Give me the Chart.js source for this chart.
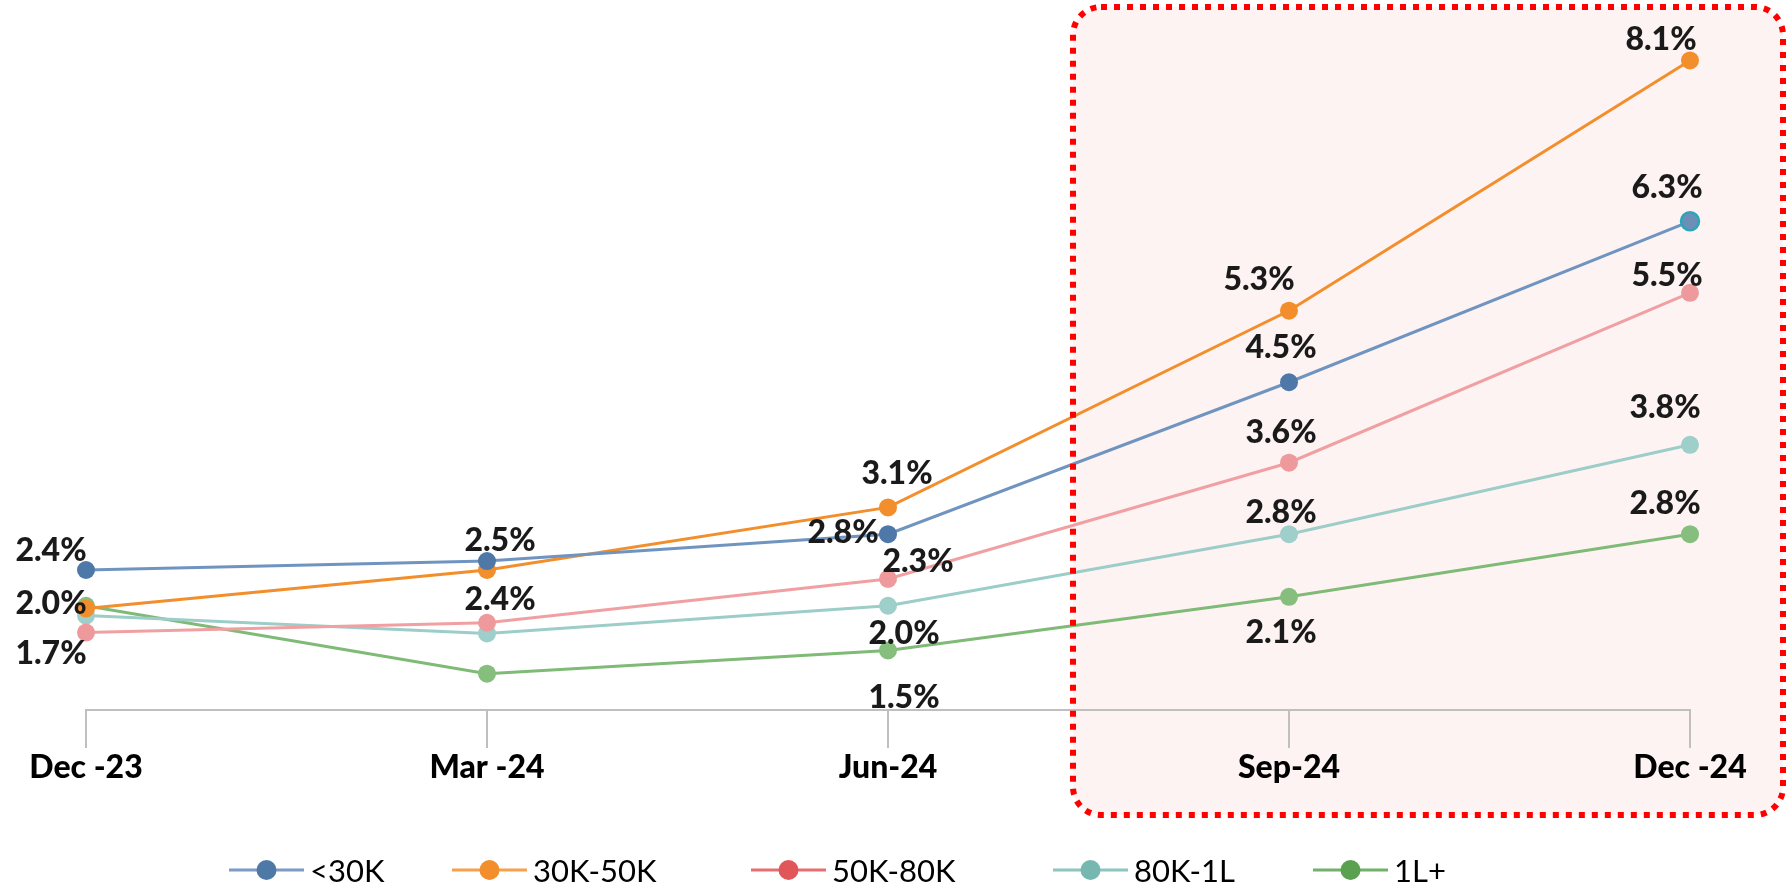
<!DOCTYPE html>
<html>
<head>
<meta charset="utf-8">
<script src="https://cdn.jsdelivr.net/npm/chart.js@4.4.1/dist/chart.umd.min.js"></script>
<style>
  html, body { margin: 0; padding: 0; background: #fff; }
  #wrap { position: relative; width: 1786px; height: 889px; overflow: hidden; }
  #grafica { position: absolute; left: 0; top: 0; }
  .item { position: absolute; top: 855px; height: 30px; display: flex; align-items: center;
          font: 31px Lato, sans-serif; color: #000; white-space: nowrap; }
  .item canvas { margin-right: 6px; }
</style>
</head>
<body>
<div id="wrap">
  <canvas id="grafica" width="1786" height="889"></canvas>
  <div id="leyenda"></div>
</div>
<script>
// datos
const periodos = ['Dec -23', 'Mar -24', 'Jun-24', 'Sep-24', 'Dec -24'];
const nombres = ['<30K', '30K-50K', '50K-80K', '80K-1L', '1L+'];
const menos30k = [2.4, 2.5, 2.8, 4.5, 6.3];
const de30a50k = [1.97, 2.4, 3.1, 5.3, 8.1];
const de50a80k = [1.7, 1.81, 2.3, 3.6, 5.5];
const de80ka1l = [1.89, 1.69, 2.0, 2.8, 3.8];
const mas1l = [2.0, 1.24, 1.5, 2.1, 2.8];

// estilos
const colLinea = ['#7094C0', '#F28E2B', '#F0A0A2', '#9CCDC8', '#7FBA76'];
const colPunto = ['#4E78A8', '#F28E2B', '#EE9A9C', '#9FCFCA', '#86BE7E'];
const legLinea = ['#7D9BC3', '#F5A04A', '#E46E70', '#8DC5C0', '#73B06A'];
const legPunto = ['#4E79A7', '#F28E2B', '#E15759', '#76B7B2', '#59A14F'];
const legIzq = [229, 452, 751, 1053, 1313];

// desplazamiento de cada etiqueta respecto a su punto (null = sin etiqueta)
const posEtiquetas = [
    [[-35, -20], [13, -22], [-45, -3], [-8, -36], [-23, -35]],
    [null, [13, 29], [9, -35], [-30, -32], [-29, -22]],
    [[-35, 20], null, [30, -18], [-8, -31], [-23, -18]],
    [null, null, [16, 27], [-8, -23], [-25, -38]],
    [[-35, -3], null, [16, 46], [-8, 35], [-25, -32]]
];

const valores = [menos30k, de30a50k, de50a80k, de80ka1l, mas1l];

const caja = (ctx, x, y, w, h, r) => {
    ctx.beginPath();
    ctx.moveTo(x + r, y);
    ctx.lineTo(x + w - r, y);
    ctx.arcTo(x + w, y, x + w, y + r, r);
    ctx.lineTo(x + w, y + h - r);
    ctx.arcTo(x + w, y + h, x + w - r, y + h, r);
    ctx.lineTo(x + r, y + h);
    ctx.arcTo(x, y + h, x, y + h - r, r);
    ctx.lineTo(x, y + r);
    ctx.arcTo(x, y, x + r, y, r);
    ctx.closePath();
};

const resaltado = {
    id: 'resaltado',
    beforeDraw(chart) {
        const ctx = chart.ctx;
        ctx.save();
        caja(ctx, 1073, 7, 710, 808, 28);
        ctx.fillStyle = '#FEF3F3';
        ctx.fill();
        ctx.restore();
    },
    afterDraw(chart) {
        const ctx = chart.ctx;
        ctx.save();
        caja(ctx, 1073, 7, 710, 808, 28);
        ctx.strokeStyle = '#FF0000';
        ctx.lineWidth = 6;
        ctx.setLineDash([6, 7]);
        ctx.stroke();
        ctx.restore();
    }
};

const etiquetas = {
    id: 'etiquetas',
    afterDatasetsDraw(chart) {
        const ctx = chart.ctx;
        ctx.save();
        ctx.font = '900 32px Lato';
        ctx.fillStyle = '#1A1A1A';
        ctx.textAlign = 'center';
        ctx.textBaseline = 'alphabetic';
        chart.data.datasets.forEach((ds, i) => {
            const meta = chart.getDatasetMeta(i);
            meta.data.forEach((pt, j) => {
                const off = posEtiquetas[i][j];
                if (!off) return;
                const txt = ds.data[j].toFixed(1) + '%';
                ctx.fillText(txt, pt.x + off[0], pt.y + off[1] + 11.5);
            });
        });
        ctx.restore();
    }
};

const datasets = valores.map((vals, i) => ({
    label: nombres[i],
    data: vals,
    borderColor: colLinea[i],
    backgroundColor: colPunto[i],
    borderWidth: 3,
    pointRadius: 9,
    pointHoverRadius: 9,
    pointBackgroundColor: colPunto[i],
    pointBorderColor: colPunto[i],
    pointBorderWidth: 0,
    tension: 0
}));
// punto final de <30K con borde turquesa
datasets[0].pointBackgroundColor = [colPunto[0], colPunto[0], colPunto[0], colPunto[0], '#6C8FB8'];
datasets[0].pointBorderColor = [colPunto[0], colPunto[0], colPunto[0], colPunto[0], '#2BA6B9'];
datasets[0].pointBorderWidth = [0, 0, 0, 0, 2.5];

const grafica = new Chart(document.getElementById('grafica').getContext('2d'), {
    type: 'line',
    data: { labels: periodos, datasets: datasets },
    options: {
        responsive: false,
        animation: false,
        layout: { padding: { left: 86, right: 96, top: 0, bottom: 102.6 } },
        plugins: {
            legend: { display: false },
            tooltip: { enabled: false }
        },
        scales: {
            x: {
                offset: false,
                border: { display: true, color: '#BFBFBF', width: 2 },
                grid: { display: true, drawOnChartArea: false, drawTicks: true, tickLength: 38, color: '#BFBFBF', lineWidth: 2 },
                ticks: { padding: 0, color: '#000', font: { family: 'Lato', weight: '900', size: 32 }, maxRotation: 0, autoSkip: false }
            },
            y: {
                display: false,
                min: 0.834,
                max: 8.647
            }
        }
    },
    plugins: [resaltado, etiquetas]
});

// leyenda
const leyenda = document.getElementById('leyenda');
nombres.forEach((n, i) => {
    const item = document.createElement('div');
    item.className = 'item';
    item.style.left = legIzq[i] + 'px';
    const c = document.createElement('canvas');
    c.width = 75; c.height = 24;
    const g = c.getContext('2d');
    g.strokeStyle = legLinea[i];
    g.lineWidth = 3;
    g.beginPath(); g.moveTo(0, 12); g.lineTo(75, 12); g.stroke();
    g.fillStyle = legPunto[i];
    g.beginPath(); g.arc(37.5, 12, 10, 0, Math.PI * 2); g.fill();
    const t = document.createElement('span');
    t.textContent = n;
    item.appendChild(c);
    item.appendChild(t);
    leyenda.appendChild(item);
});
</script>
</body>
</html>
